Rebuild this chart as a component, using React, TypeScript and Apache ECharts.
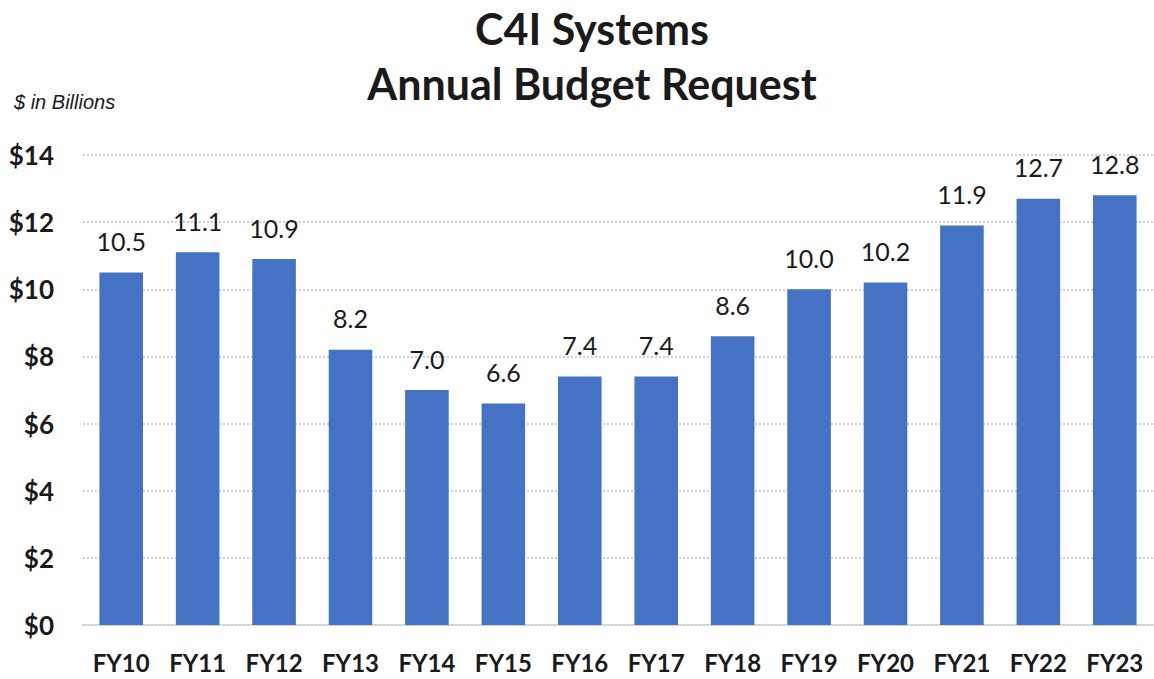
import React, { useEffect, useRef } from "react";
import * as echarts from "echarts";

const categories = ["FY10", "FY11", "FY12", "FY13", "FY14", "FY15", "FY16", "FY17", "FY18", "FY19", "FY20", "FY21", "FY22", "FY23"];
const values = [10.5, 11.1, 10.9, 8.2, 7.0, 6.6, 7.4, 7.4, 8.6, 10.0, 10.2, 11.9, 12.7, 12.8];
const titleLines = ["C4I Systems", "Annual Budget Request"];
const unitNote = "$ in Billions";

export default function App() {
  const ref = useRef<HTMLDivElement>(null);
  useEffect(() => {
    if (!ref.current) return;
    const chart = echarts.init(ref.current, undefined, { renderer: "svg" });
    chart.setOption({
      animation: false,
      backgroundColor: "#ffffff",
      title: [
        {
          text: titleLines.join("\n"),
          left: 587,
          textAlign: "center",
          top: -4,
          textStyle: { fontFamily: "Lato", fontWeight: "bold", fontSize: 43, color: "#1a1a1a", lineHeight: 55 },
        },
        {
          text: unitNote,
          left: 9,
          top: 87,
          textStyle: { fontFamily: "Liberation Sans", fontStyle: "italic", fontWeight: "normal", fontSize: 20, color: "#1a1a1a" },
        },
      ],
      grid: { left: 83, right: 1, top: 155, bottom: 54, containLabel: false },
      xAxis: {
        type: "category",
        data: categories,
        axisLine: { show: true, lineStyle: { color: "#d0d0d0", width: 2, type: "dotted" } },
        axisTick: { show: false },
        axisLabel: { interval: 0, fontFamily: "Lato", fontWeight: "bold", fontSize: 24, color: "#1a1a1a", margin: 25 },
      },
      yAxis: {
        type: "value",
        min: 0,
        max: 14,
        interval: 2,
        axisLine: { show: false },
        axisTick: { show: false },
        axisLabel: {
          formatter: (v: number) => "$" + v,
          fontFamily: "Lato",
          fontWeight: "bold",
          fontSize: 26,
          color: "#1a1a1a",
          margin: 29,
        },
        splitLine: { lineStyle: { color: "#cfcfcf", width: 2, type: "dotted" } },
      },
      series: [
        {
          type: "bar",
          data: values,
          barWidth: "57%",
          itemStyle: { color: "#4472C4" },
          label: {
            show: true,
            position: "top",
            distance: 19,
            formatter: (p: any) => Number(p.value).toFixed(1),
            fontFamily: "Lato",
            fontSize: 25,
            color: "#1a1a1a",
          },
        },
      ],
    });
    return () => chart.dispose();
  }, []);
  return <div ref={ref} style={{ width: 1154, height: 679, position: "absolute", left: 0, top: 0 }} />;
}
